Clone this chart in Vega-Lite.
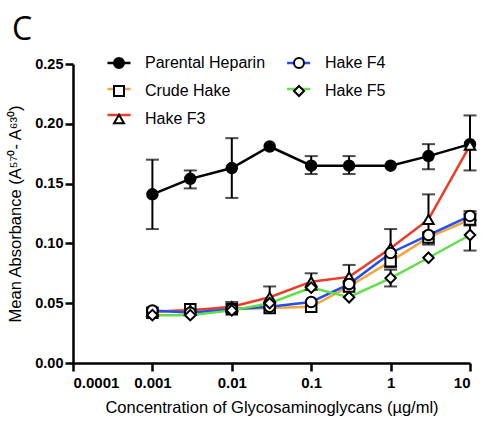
{
  "$schema": "https://vega.github.io/schema/vega-lite/v6.json",
  "width": 397,
  "height": 299,
  "autosize": {"type": "none"},
  "padding": {"left": 73, "top": 64, "right": 11, "bottom": 60},
  "background": "white",
  "title": {"text": "C", "anchor": "start", "frame": "group", "dx": -61, "offset": 8, "fontSize": 32, "font": "Open Sans", "fontWeight": "normal", "color": "black"},
  "config": {
    "view": {"stroke": null},
    "axis": {"grid": false, "domainColor": "black", "domainWidth": 2.5, "tickColor": "black", "tickWidth": 2.5, "tickSize": 8, "labelFont": "Liberation Sans", "labelFontWeight": "bold", "labelColor": "black", "titleFont": "Liberation Sans", "titleFontWeight": "normal", "titleColor": "black", "titleFontSize": 16.5},
    "legend": {"labelFont": "Liberation Sans", "labelFontSize": 16, "labelColor": "black", "labelLimit": 300}
  },
  "data": {"values": [
    {"series": "Parental Heparin", "x": 0.001, "y": 0.141, "lo": 0.112, "hi": 0.170},
    {"series": "Parental Heparin", "x": 0.003, "y": 0.154, "lo": 0.146, "hi": 0.161},
    {"series": "Parental Heparin", "x": 0.01, "y": 0.163, "lo": 0.138, "hi": 0.188},
    {"series": "Parental Heparin", "x": 0.03, "y": 0.181},
    {"series": "Parental Heparin", "x": 0.1, "y": 0.165, "lo": 0.158, "hi": 0.173},
    {"series": "Parental Heparin", "x": 0.3, "y": 0.165, "lo": 0.158, "hi": 0.173},
    {"series": "Parental Heparin", "x": 1, "y": 0.165},
    {"series": "Parental Heparin", "x": 3, "y": 0.173, "lo": 0.162, "hi": 0.183},
    {"series": "Parental Heparin", "x": 10, "y": 0.183, "lo": 0.161, "hi": 0.207},
    {"series": "Crude Hake", "x": 0.001, "y": 0.042},
    {"series": "Crude Hake", "x": 0.003, "y": 0.045},
    {"series": "Crude Hake", "x": 0.01, "y": 0.045},
    {"series": "Crude Hake", "x": 0.03, "y": 0.046},
    {"series": "Crude Hake", "x": 0.1, "y": 0.047},
    {"series": "Crude Hake", "x": 0.3, "y": 0.064},
    {"series": "Crude Hake", "x": 1, "y": 0.085},
    {"series": "Crude Hake", "x": 3, "y": 0.105},
    {"series": "Crude Hake", "x": 10, "y": 0.120, "lo": 0.115, "hi": 0.125},
    {"series": "Hake F3", "x": 0.001, "y": 0.043},
    {"series": "Hake F3", "x": 0.003, "y": 0.044},
    {"series": "Hake F3", "x": 0.01, "y": 0.047, "lo": 0.043, "hi": 0.051},
    {"series": "Hake F3", "x": 0.03, "y": 0.055, "lo": 0.046, "hi": 0.064},
    {"series": "Hake F3", "x": 0.1, "y": 0.068, "lo": 0.061, "hi": 0.075},
    {"series": "Hake F3", "x": 0.3, "y": 0.072, "lo": 0.062, "hi": 0.082},
    {"series": "Hake F3", "x": 1, "y": 0.096, "lo": 0.080, "hi": 0.112},
    {"series": "Hake F3", "x": 3, "y": 0.120, "lo": 0.099, "hi": 0.141},
    {"series": "Hake F3", "x": 10, "y": 0.182},
    {"series": "Hake F4", "x": 0.001, "y": 0.044},
    {"series": "Hake F4", "x": 0.003, "y": 0.042},
    {"series": "Hake F4", "x": 0.01, "y": 0.045},
    {"series": "Hake F4", "x": 0.03, "y": 0.047},
    {"series": "Hake F4", "x": 0.1, "y": 0.051},
    {"series": "Hake F4", "x": 0.3, "y": 0.066},
    {"series": "Hake F4", "x": 1, "y": 0.092},
    {"series": "Hake F4", "x": 3, "y": 0.107},
    {"series": "Hake F4", "x": 10, "y": 0.123, "lo": 0.119, "hi": 0.127},
    {"series": "Hake F5", "x": 0.001, "y": 0.040},
    {"series": "Hake F5", "x": 0.003, "y": 0.040},
    {"series": "Hake F5", "x": 0.01, "y": 0.044},
    {"series": "Hake F5", "x": 0.03, "y": 0.050},
    {"series": "Hake F5", "x": 0.1, "y": 0.063},
    {"series": "Hake F5", "x": 0.3, "y": 0.055},
    {"series": "Hake F5", "x": 1, "y": 0.071, "lo": 0.064, "hi": 0.078},
    {"series": "Hake F5", "x": 3, "y": 0.088},
    {"series": "Hake F5", "x": 10, "y": 0.107, "lo": 0.094, "hi": 0.120}
  ]},
  "encoding": {
    "x": {"field": "x", "type": "quantitative", "scale": {"type": "log", "domain": [0.0001, 10]},
      "axis": {"values": [0.0001, 0.001, 0.01, 0.1, 1, 10], "format": "~g", "labelFontSize": 15, "labelPadding": 4, "title": "Concentration of Glycosaminoglycans (µg/ml)", "titlePadding": 9}},
    "y": {"field": "y", "type": "quantitative", "scale": {"domain": [0, 0.25]},
      "axis": {"values": [0, 0.05, 0.1, 0.15, 0.2, 0.25], "format": ".2f", "labelFontSize": 14.5, "labelPadding": 2, "tickSize": 8, "title": "Mean Absorbance (A⁵⁷⁰- A⁶³⁰)", "titlePadding": 11}}
  },
  "layer": [
    {
      "mark": {"type": "line", "strokeWidth": 2.5},
      "encoding": {
        "color": {"field": "series", "type": "nominal",
          "scale": {"domain": ["Parental Heparin", "Crude Hake", "Hake F3", "Hake F4", "Hake F5"], "range": ["#000000", "#f5a33c", "#ee3a26", "#1f4ff5", "#5fe048"]},
          "legend": {"title": null, "orient": "none", "legendX": 38, "legendY": -9, "columns": 2, "columnPadding": 136.6, "rowPadding": 10, "symbolSize": 100, "labelOffset": 18, "symbolType": "M-2.3,0L2.3,0", "symbolStrokeWidth": 2.5, "labelExpr": "' '"}}
      }
    },
    {
      "mark": {"type": "rule", "color": "black", "strokeWidth": 2},
      "encoding": {"y": {"field": "lo", "type": "quantitative"}, "y2": {"field": "hi"}}
    },
    {
      "mark": {"type": "tick", "color": "black", "orient": "horizontal", "size": 13, "thickness": 2},
      "encoding": {"y": {"field": "lo", "type": "quantitative"}}
    },
    {
      "mark": {"type": "tick", "color": "black", "orient": "horizontal", "size": 13, "thickness": 2},
      "encoding": {"y": {"field": "hi", "type": "quantitative"}}
    },
    {
      "mark": {"type": "point", "filled": true, "strokeWidth": 2, "size": 110, "opacity": 1},
      "encoding": {
        "shape": {"field": "series", "type": "nominal",
          "scale": {"domain": ["Parental Heparin", "Crude Hake", "Hake F3", "Hake F4", "Hake F5", "none"], "range": ["circle", "square", "triangle-up", "circle", "diamond", "circle"]},
          "legend": {"title": null, "values": ["Parental Heparin", "Crude Hake", "Hake F3", "Hake F4", "Hake F5"], "orient": "none", "legendX": 38, "legendY": -9, "columns": 2, "columnPadding": 24, "rowPadding": 10, "symbolSize": 100, "labelOffset": 18, "symbolStrokeWidth": 2}},
        "fill": {"field": "series", "type": "nominal",
          "scale": {"domain": ["Parental Heparin", "Crude Hake", "Hake F3", "Hake F4", "Hake F5", "none"], "range": ["black", "white", "white", "white", "white", "white"]},
          "legend": {"title": null, "values": ["Parental Heparin", "Crude Hake", "Hake F3", "Hake F4", "Hake F5"], "orient": "none", "legendX": 38, "legendY": -9, "columns": 2, "columnPadding": 24, "rowPadding": 10, "symbolSize": 100, "labelOffset": 18, "symbolStrokeWidth": 2}},
        "stroke": {"field": "series", "type": "nominal",
          "scale": {"domain": ["Parental Heparin", "Crude Hake", "Hake F3", "Hake F4", "Hake F5", "none"], "range": ["black", "black", "black", "black", "black", "black"]},
          "legend": {"title": null, "values": ["Parental Heparin", "Crude Hake", "Hake F3", "Hake F4", "Hake F5"], "orient": "none", "legendX": 38, "legendY": -9, "columns": 2, "columnPadding": 24, "rowPadding": 10, "symbolSize": 100, "labelOffset": 18, "symbolStrokeWidth": 2}}
      }
    }
  ]
}
